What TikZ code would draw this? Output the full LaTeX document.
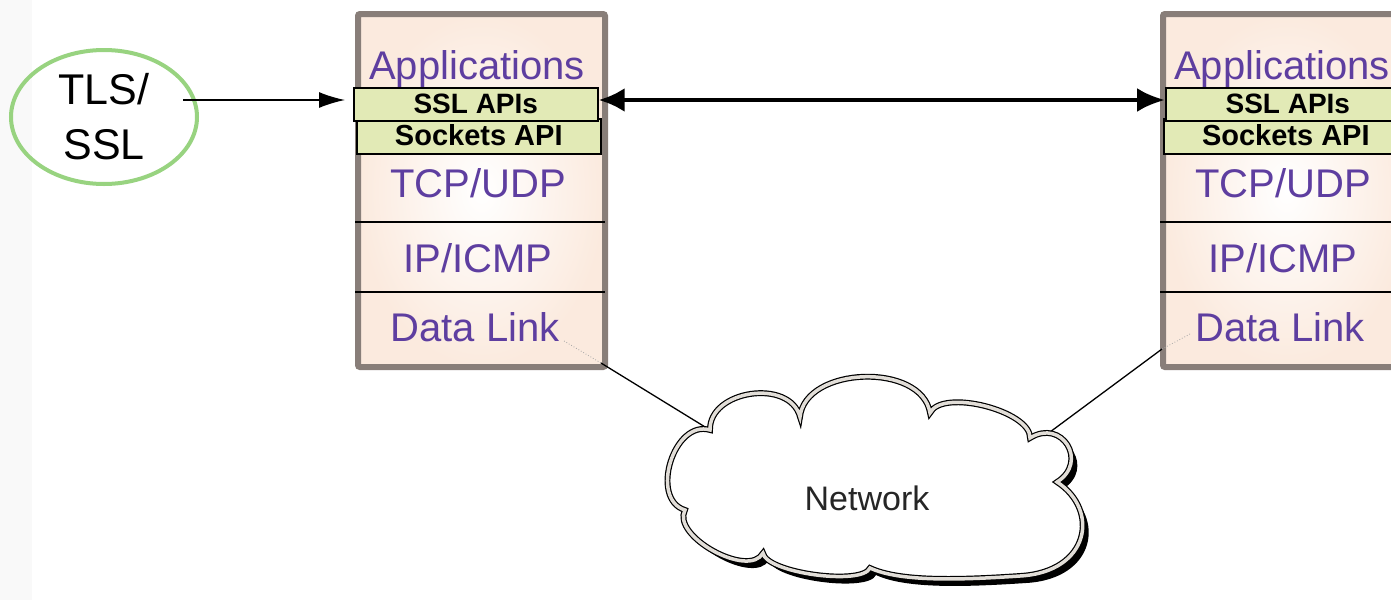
\documentclass[tikz,border=0pt]{standalone}
\usepackage{fontspec}
\setmainfont{Liberation Sans}
\usetikzlibrary{arrows.meta,shapes.geometric}
\definecolor{layertext}{RGB}{94,62,160}
\definecolor{stackframe}{RGB}{136,126,121}
\definecolor{stackpeach}{RGB}{251,234,222}
\definecolor{apifill}{RGB}{226,234,182}
\definecolor{tlsgreen}{RGB}{152,211,128}
\definecolor{cloudrim}{RGB}{226,222,216}
\definecolor{sidestrip}{RGB}{249,249,249}
\tikzset{
  stackbox/.style={draw=stackframe,line width=6pt,rounded corners=2pt,
    inner color=white,outer color=stackpeach,shading=radial},
  layer/.style={text=layertext,font=\fontsize{40}{44}\selectfont,inner sep=0pt},
  apibox/.style={draw=black,line width=1.6pt,fill=apifill,inner sep=0pt},
  sepline/.style={draw=black,line width=1.2pt},
  netlink/.style={draw=black,line width=1.3pt},
  hidden/.style={draw=black!35,dotted,line width=0.8pt},
}
% outline of the network cloud
\def\netcloud{(710,430) .. controls (709,390) and (790,378) .. (800,417)
  .. controls (805,366) and (922,362) .. (930,413)
  .. controls (942,388) and (1031,411) .. (1030,438)
  .. controls (1062,418) and (1089,462) .. (1057,482)
  .. controls (1100,510) and (1090,572) .. (1020,576)
  .. controls (960,580) and (900,582) .. (870,568)
  .. controls (862,586) and (766,573) .. (763,553)
  .. controls (749,579) and (671,536) .. (685,510)
  .. controls (649,499) and (674,419) .. cycle}
\begin{document}
\begin{tikzpicture}[x=1pt,y=-1pt]
\useasboundingbox (0,0) rectangle (1391,600);
\clip (0,0) rectangle (1391,600);
\fill[white] (0,0) rectangle (1391,600);
\fill[sidestrip] (0,0) rectangle (32,600);

% protocol stacks: name / left edge / SSL box offset / sockets box offset
\foreach \s/\x/\a/\b in {l/355/-2/1, r/1160/5/3}{
  \node[stackbox,minimum width=247pt,minimum height=353pt,anchor=north west]
    (\s stack) at (\x,11) {};
  \draw[sepline] (\x,222) -- (\x+250,222);
  \draw[sepline] (\x,292) -- (\x+250,292);
  \node[layer] (\s app) at (\x+122,69) {Applications};
  \node[apibox,minimum width=244pt,minimum height=35pt,anchor=north west,
    font=\bfseries\fontsize{29}{32}\selectfont]
    (\s sock) at (\x+\b,118) {\raisebox{3pt}{Sockets API}};
  \node[apibox,minimum width=244pt,minimum height=33pt,anchor=north west,
    font=\bfseries\fontsize{28}{30}\selectfont]
    (\s ssl) at (\x+\a,87) {SSL APIs};
  \node[layer] (\s tcp) at (\x+123,183) {TCP/UDP};
  \node[layer] (\s ip) at (\x+123,258) {IP/ICMP};
  \node[layer] (\s dl) at (\x+120,327) {Data Link};
}

% TLS/SSL bubble
\node[draw=tlsgreen,line width=4pt,ellipse,minimum width=186pt,minimum height=134pt,
  align=center,font=\fontsize{43}{55}\selectfont,inner sep=0pt] (tls) at (104,117) {TLS/\\SSL};
\coordinate (tlsout) at (183,100);
\coordinate (tlsend) at ([xshift=-8pt]lssl.west);
\draw[line width=1.5pt,-{Latex[length=26pt,width=16pt]}] (tlsout) -- (tlsend |- tlsout);

% end-to-end secure session
\coordinate (sessl) at (lssl.east);
\coordinate (sessr) at (rssl.west);
\draw[line width=4.5pt,{Latex[length=26pt,width=24pt]}-{Latex[length=28pt,width=24pt]}]
  (sessl |- tlsout) -- (sessr |- tlsout);

% network cloud with drop shadow
\coordinate (lbase) at (601,363);
\coordinate (rbase) at (1162,349);
\coordinate (lcl) at (710,430);
\coordinate (rcl) at (1050,432);
\draw[netlink] (lbase) -- (lcl);
\draw[netlink] (rbase) -- (rcl);
\draw[hidden] (564,341) -- (lbase);
\draw[hidden] (1190,334) -- (rbase);
\fill[black,shift={(6,7)}] \netcloud;
\draw[black,line width=1.2pt,double=cloudrim,double distance=3.5pt,fill=white] \netcloud;
\node[text=black!85,font=\fontsize{34}{40}\selectfont,inner sep=0pt] (net) at (867,498) {Network};
\end{tikzpicture}
\end{document}
